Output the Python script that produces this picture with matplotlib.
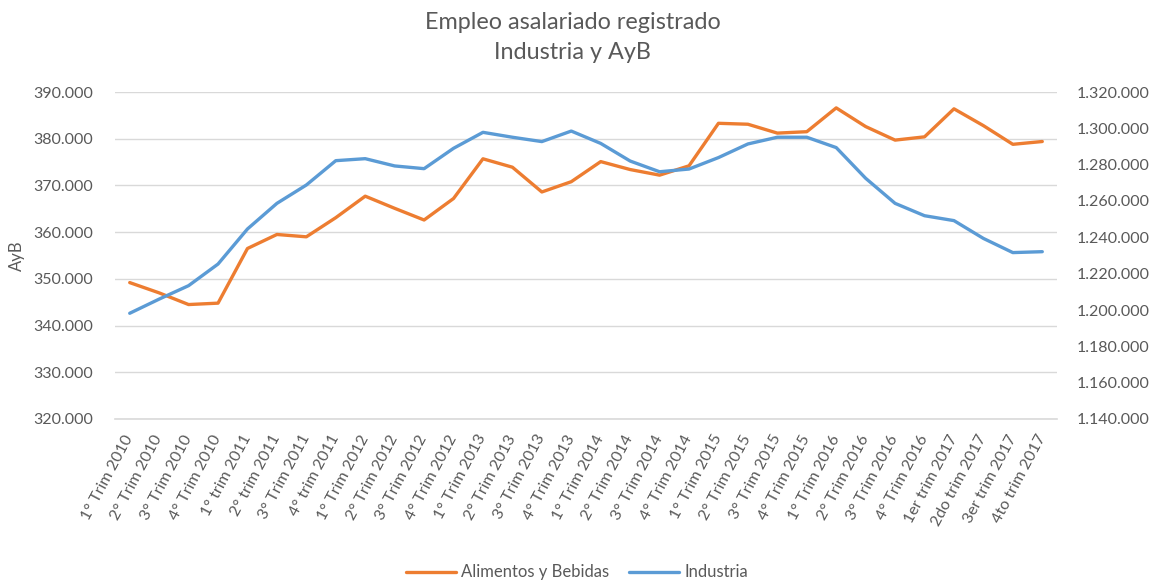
import matplotlib.pyplot as plt
from matplotlib.ticker import FuncFormatter, MultipleLocator

plt.rcParams['font.family'] = ['Lato', 'DejaVu Sans']

# trimestres
quarters = [
    '1° Trim 2010', '2° Trim 2010', '3° Trim 2010', '4° Trim 2010',
    '1° trim 2011', '2° trim 2011', '3° Trim 2011', '4° trim 2011',
    '1° Trim 2012', '2° Trim 2012', '3° Trim 2012', '4° Trim 2012',
    '1° Trim 2013', '2° Trim 2013', '3° Trim 2013', '4° Trim 2013',
    '1° Trim 2014', '2° Trim 2014', '3° Trim 2014', '4° Trim 2014',
    '1° Trim 2015', '2° Trim 2015', '3° Trim 2015', '4° Trim 2015',
    '1° Trim 2016', '2° Trim 2016', '3° Trim 2016', '4° Trim 2016',
    '1er trim 2017', '2do trim 2017', '3er trim 2017', '4to trim 2017',
]

# Alimentos y Bebidas (eje izquierdo)
ayb = [349200, 347000, 344500, 344800, 356500, 359500, 359000, 363100,
       367700, 365100, 362600, 367200, 375700, 373900, 368600, 370800,
       375100, 373400, 372200, 374200, 383300, 383100, 381200, 381500,
       386600, 382600, 379700, 380400, 386400, 382800, 378800, 379400]

# Industria (eje derecho)
industria = [1198200, 1206000, 1213400, 1225300, 1244600, 1258700, 1268800, 1282200,
             1283300, 1279300, 1277800, 1289000, 1297800, 1295100, 1292700, 1298500,
             1291700, 1282000, 1276100, 1277600, 1283900, 1291400, 1295100, 1295100,
             1289400, 1272500, 1258700, 1251900, 1249200, 1239400, 1231600, 1232100]

orange = '#ED7D31'
blue = '#5B9BD5'
txt = '#595959'
grid = '#D9D9D9'

def miles(v, pos):
    return f'{int(round(v)):,}'.replace(',', '.')

fig = plt.figure(figsize=(11.54, 5.8), dpi=100)
ax = fig.add_axes([115 / 1154, 1 - 419 / 580, 942 / 1154, 327 / 580])
ax2 = ax.twinx()

x = list(range(len(quarters)))
l1, = ax.plot(x, ayb, color=orange, lw=2.4, solid_capstyle='round', label='Alimentos y Bebidas', zorder=3)
l2, = ax2.plot(x, industria, color=blue, lw=2.4, solid_capstyle='round', label='Industria', zorder=3)

ax.set_xlim(-0.5, len(quarters) - 0.5)
ax.set_ylim(320000, 390000)
ax2.set_ylim(1140000, 1320000)
ax.yaxis.set_major_locator(MultipleLocator(10000))
ax2.yaxis.set_major_locator(MultipleLocator(20000))
ax.yaxis.set_major_formatter(FuncFormatter(miles))
ax2.yaxis.set_major_formatter(FuncFormatter(miles))

ax.grid(axis='y', color=grid, lw=1)
ax.axhline(320000, color=grid, lw=1.2, clip_on=False, zorder=1)
ax.set_axisbelow(True)
for a in (ax, ax2):
    for s in a.spines.values():
        s.set_visible(False)
    a.tick_params(length=0, labelsize=11.5, colors=txt)
ax.tick_params(axis='y', pad=16)
ax2.tick_params(axis='y', pad=14)

ax.set_xticks(x)
ax.set_xticklabels(quarters, rotation=62, ha='right', va='center', rotation_mode='anchor', fontsize=11.5, color=txt)
ax.tick_params(axis='x', pad=12)

ax.set_ylabel('AyB', fontsize=12, color=txt, labelpad=6)

fig.text(0.496, 0.962, 'Empleo asalariado registrado', ha='center', va='center', fontsize=16.8, color=txt)
fig.text(0.496, 0.91, 'Industria y AyB', ha='center', va='center', fontsize=16.8, color=txt)

fig.legend(handles=[l1, l2], loc='center', bbox_to_anchor=(0.5, 0.013), ncol=2, frameon=False,
           fontsize=12, labelcolor=txt, handlelength=3, columnspacing=1.2, handletextpad=0.3)

fig.savefig('out.png', dpi=100)
